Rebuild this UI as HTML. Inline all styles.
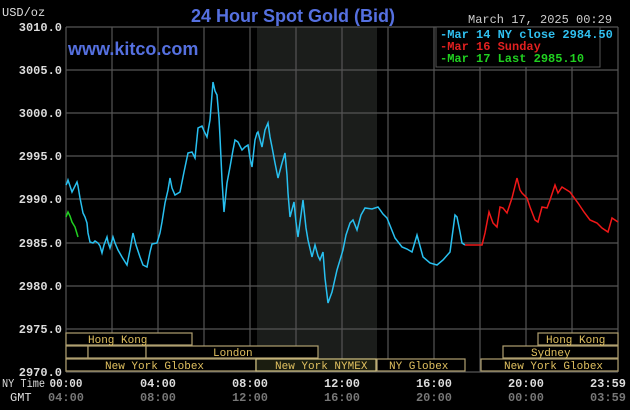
<!DOCTYPE html>
<html><head><style>
html,body{margin:0;padding:0;background:#000;}
svg{display:block;}
.m{font-family:"Liberation Mono",monospace;font-size:12px;}
.s{font-family:"Liberation Mono",monospace;font-size:11px;fill:#e0c060;}
</style></head><body>
<svg width="630" height="410" viewBox="0 0 630 410" xmlns="http://www.w3.org/2000/svg">
<rect width="630" height="410" fill="#000"/>
<rect x="257" y="27" width="120" height="345" fill="#1b1d1b"/>
<g stroke="#555" stroke-width="1.2">
<line x1="66" y1="27" x2="618" y2="27"/><line x1="66" y1="70" x2="618" y2="70"/>
<line x1="66" y1="113" x2="618" y2="113"/><line x1="66" y1="156" x2="618" y2="156"/>
<line x1="66" y1="199" x2="618" y2="199"/><line x1="66" y1="243" x2="618" y2="243"/>
<line x1="66" y1="286" x2="618" y2="286"/><line x1="66" y1="329" x2="618" y2="329"/>
<line x1="66" y1="372" x2="618" y2="372"/>
<line x1="66" y1="27" x2="66" y2="372"/><line x1="112" y1="27" x2="112" y2="372"/>
<line x1="158" y1="27" x2="158" y2="372"/><line x1="204" y1="27" x2="204" y2="372"/>
<line x1="250" y1="27" x2="250" y2="372"/><line x1="296" y1="27" x2="296" y2="372"/>
<line x1="342" y1="27" x2="342" y2="372"/><line x1="388" y1="27" x2="388" y2="372"/>
<line x1="434" y1="27" x2="434" y2="372"/><line x1="480" y1="27" x2="480" y2="372"/>
<line x1="526" y1="27" x2="526" y2="372"/><line x1="572" y1="27" x2="572" y2="372"/>
<line x1="618" y1="27" x2="618" y2="372"/>
</g>
<g fill="#000" stroke="#b0a070" stroke-width="1.2">
<rect x="66" y="333" width="126" height="12"/><rect x="538" y="333" width="80" height="12"/>
<rect x="66" y="346" width="22" height="12"/><rect x="88" y="346" width="58" height="12"/>
<rect x="146" y="346" width="172" height="12"/><rect x="503" y="346" width="115" height="12"/>
<rect x="66" y="359" width="190" height="12"/><rect x="256" y="359" width="120" height="12" fill="#1b1d10" stroke="#d0c080"/>
<rect x="377" y="359" width="88" height="12"/><rect x="481" y="359" width="137" height="12"/>
</g>
<g class="s">
<text x="88" y="343">Hong Kong</text><text x="546" y="343">Hong Kong</text>
<text x="213" y="356">London</text><text x="531" y="356">Sydney</text>
<text x="105" y="369">New York Globex</text><text x="275" y="369">New York NYMEX</text>
<text x="389" y="369">NY Globex</text><text x="504" y="369">New York Globex</text>
</g>
<g class="m" fill="#ddd" font-weight="bold" text-anchor="end">
<text x="62" y="31">3010.0</text><text x="62" y="74">3005.0</text><text x="62" y="117">3000.0</text>
<text x="62" y="160">2995.0</text><text x="62" y="203">2990.0</text><text x="62" y="247">2985.0</text>
<text x="62" y="290">2980.0</text><text x="62" y="333">2975.0</text><text x="62" y="376">2970.0</text>
</g>
<text x="2" y="16" class="m" fill="#ddd" font-size="11">USD/oz</text>
<g class="m" fill="#ddd" font-weight="bold" text-anchor="middle">
<text x="66" y="387" textLength="33" lengthAdjust="spacingAndGlyphs">00:00</text><text x="158" y="387">04:00</text><text x="250" y="387">08:00</text>
<text x="342" y="387">12:00</text><text x="434" y="387">16:00</text><text x="526" y="387">20:00</text>
<text x="608" y="387">23:59</text>
</g>
<g class="m" fill="#777" font-weight="bold" text-anchor="middle">
<text x="66" y="401">04:00</text><text x="158" y="401">08:00</text><text x="250" y="401">12:00</text>
<text x="342" y="401">16:00</text><text x="434" y="401">20:00</text><text x="526" y="401">00:00</text>
<text x="608" y="401">03:59</text>
</g>
<text x="2" y="387" class="m" fill="#ddd" font-size="11" textLength="43" lengthAdjust="spacingAndGlyphs">NY Time</text>
<text x="10" y="401" class="m" fill="#ddd" font-size="11">GMT</text>
<text x="293" y="22" font-family="Liberation Sans,sans-serif" font-size="18" font-weight="bold" fill="#5570e0" text-anchor="middle">24 Hour Spot Gold (Bid)</text>
<text x="68" y="55" font-family="Liberation Sans,sans-serif" font-size="18" font-weight="bold" fill="#5570e0">www.kitco.com</text>
<text x="468" y="23" class="m" fill="#ccc">March 17, 2025 00:29</text>
<rect x="436" y="27" width="164" height="40" fill="#000" stroke="#555"/>
<g class="m" font-size="11" font-weight="bold">
<text x="440" y="38" fill="#30c0f0">-Mar 14 NY close 2984.50</text>
<text x="440" y="50" fill="#e02020">-Mar 16 Sunday</text>
<text x="440" y="62" fill="#20d020">-Mar 17 Last 2985.10</text>
</g>
<polyline fill="none" stroke="#28c0f0" stroke-width="1.5" points="66,185 67,183 68,180 70,186 72,192 74,188 77,182 78,186 80,198 82,208 83,213 85,217 87,223 88,233 90,242 93,243 95,241 98,243 100,246 102,253 104,245 107,237 108,242 110,248 113,237 115,243 118,250 122,257 127,265 130,250 133,233 136,245 140,257 143,265 147,267 150,252 152,244 157,243 160,233 162,222 165,203 168,190 170,178 172,188 175,195 180,192 184,172 188,153 192,152 195,158 198,128 202,126 204,131 207,137 210,120 213,82 215,91 217,95 219,118 220,137 222,180 224,212 227,183 230,167 233,150 235,140 238,142 242,150 245,147 248,145 250,158 252,167 255,140 257,133 258,132 262,147 265,130 268,123 270,137 272,147 275,163 278,178 282,163 285,153 287,175 288,193 290,217 294,202 296,222 298,237 301,215 303,200 306,228 308,240 312,257 315,245 318,256 320,260 323,252 325,278 328,303 332,292 337,270 343,250 346,235 350,223 353,220 357,230 361,215 365,208 372,209 378,207 383,214 387,218 391,228 395,238 402,247 407,249 412,252 417,235 420,246 423,257 430,263 437,265 443,260 450,252 453,230 455,215 457,217 460,232 462,243 465,245"/>
<polyline fill="none" stroke="#f01818" stroke-width="1.5" points="465,245 482,245 485,233 489,212 493,223 497,227 500,207 503,208 507,213 510,204 512,198 517,178 520,190 522,193 527,198 530,207 535,220 538,222 542,207 547,208 550,200 555,185 558,193 562,187 570,192 578,203 584,212 590,220 597,223 602,228 608,232 612,218 618,222"/>
<polyline fill="none" stroke="#20d020" stroke-width="1.5" points="66,217 68,212 70,216 72,222 75,227 78,237"/>
</svg>
</body></html>
